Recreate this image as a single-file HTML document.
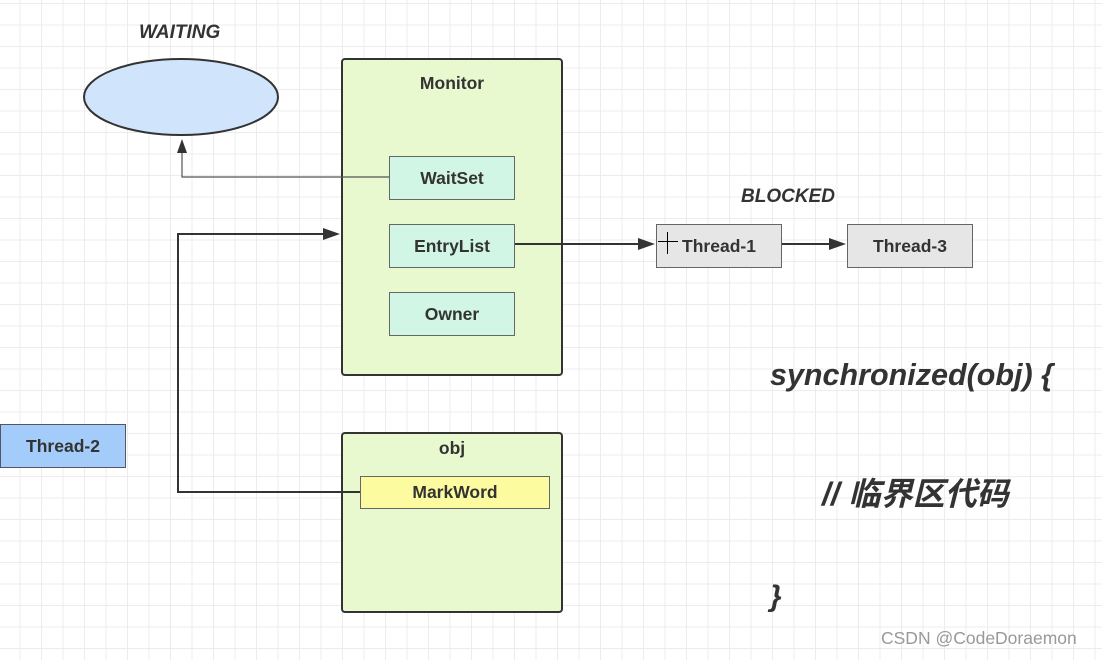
<!DOCTYPE html>
<html><head><meta charset="utf-8"><style>
body{margin:0;width:1102px;height:660px;overflow:hidden;background:#fff;
background-image:linear-gradient(#ececec 1px,transparent 1px),linear-gradient(90deg,#ececec 1px,transparent 1px);
background-size:21.5px 21.5px;background-position:-2px 3px;font-family:"Liberation Sans","Noto Sans CJK SC",sans-serif;}
.b{position:absolute;box-sizing:border-box;display:flex;align-items:center;justify-content:center;font-weight:bold;font-size:17.5px;color:#333;}
.t{position:absolute;font-weight:bold;font-style:italic;color:#333;white-space:nowrap;}
</style></head><body>
<svg width="1102" height="660" style="position:absolute;left:0;top:0">
<ellipse cx="181" cy="97" rx="97" ry="38" fill="#d0e4fc" stroke="#333" stroke-width="2"/>
<rect x="342" y="59" width="220" height="316" rx="3" fill="#e8f9cf" stroke="#333" stroke-width="2"/>
<rect x="342" y="433" width="220" height="179" rx="3" fill="#e8f9cf" stroke="#333" stroke-width="2"/>
<polyline points="389,177 182,177 182,152" fill="none" stroke="#555" stroke-width="1.2"/>
<polygon points="182,139 177,153 187,153" fill="#333"/>
<polyline points="360,492 178,492 178,234 326,234" fill="none" stroke="#333" stroke-width="2"/>
<polygon points="340,234 323,228 323,240" fill="#333"/>
<line x1="515" y1="244" x2="640" y2="244" stroke="#333" stroke-width="2"/>
<polygon points="655,244 638,238 638,250" fill="#333"/>
<line x1="781" y1="244" x2="832" y2="244" stroke="#333" stroke-width="2"/>
<polygon points="846,244 829,238 829,250" fill="#333"/>
</svg>
<div class="b" style="left:389px;top:156px;width:126px;height:44px;background:#d2f6e6;border:1px solid #666">WaitSet</div>
<div class="b" style="left:389px;top:224px;width:126px;height:44px;background:#d2f6e6;border:1px solid #666">EntryList</div>
<div class="b" style="left:389px;top:292px;width:126px;height:44px;background:#d2f6e6;border:1px solid #666">Owner</div>
<div class="b" style="left:0px;top:424px;width:126px;height:44px;background:#a3ccfa;border:1px solid #556">Thread-2</div>
<div class="b" style="left:360px;top:476px;width:190px;height:33px;background:#fdfb9f;border:1px solid #666">MarkWord</div>
<div class="b" style="left:656px;top:224px;width:126px;height:44px;background:#e6e6e6;border:1px solid #666">Thread-1</div>
<div class="b" style="left:847px;top:224px;width:126px;height:44px;background:#e6e6e6;border:1px solid #666">Thread-3</div>
<div class="b" style="left:342px;top:70px;width:220px;height:26px">Monitor</div>
<div class="b" style="left:342px;top:435px;width:220px;height:26px">obj</div>
<div style="position:absolute;left:667px;top:232px;width:1px;height:22px;background:#000"></div>
<div style="position:absolute;left:658px;top:241px;width:20px;height:1px;background:#000"></div>
<div class="t" style="left:139px;top:22px;font-size:19px">WAITING</div>
<div class="t" style="left:741px;top:186px;font-size:19px">BLOCKED</div>
<div class="t" style="left:770px;top:358px;font-size:30.5px">synchronized(obj) {</div>
<div class="t" style="left:822px;top:469px;font-size:32px">// 临界区代码</div>
<div class="t" style="left:770px;top:580px;font-size:30px">}</div>
<div style="position:absolute;left:881px;top:628px;font-size:17.5px;color:#999">CSDN @CodeDoraemon</div>
</body></html>
